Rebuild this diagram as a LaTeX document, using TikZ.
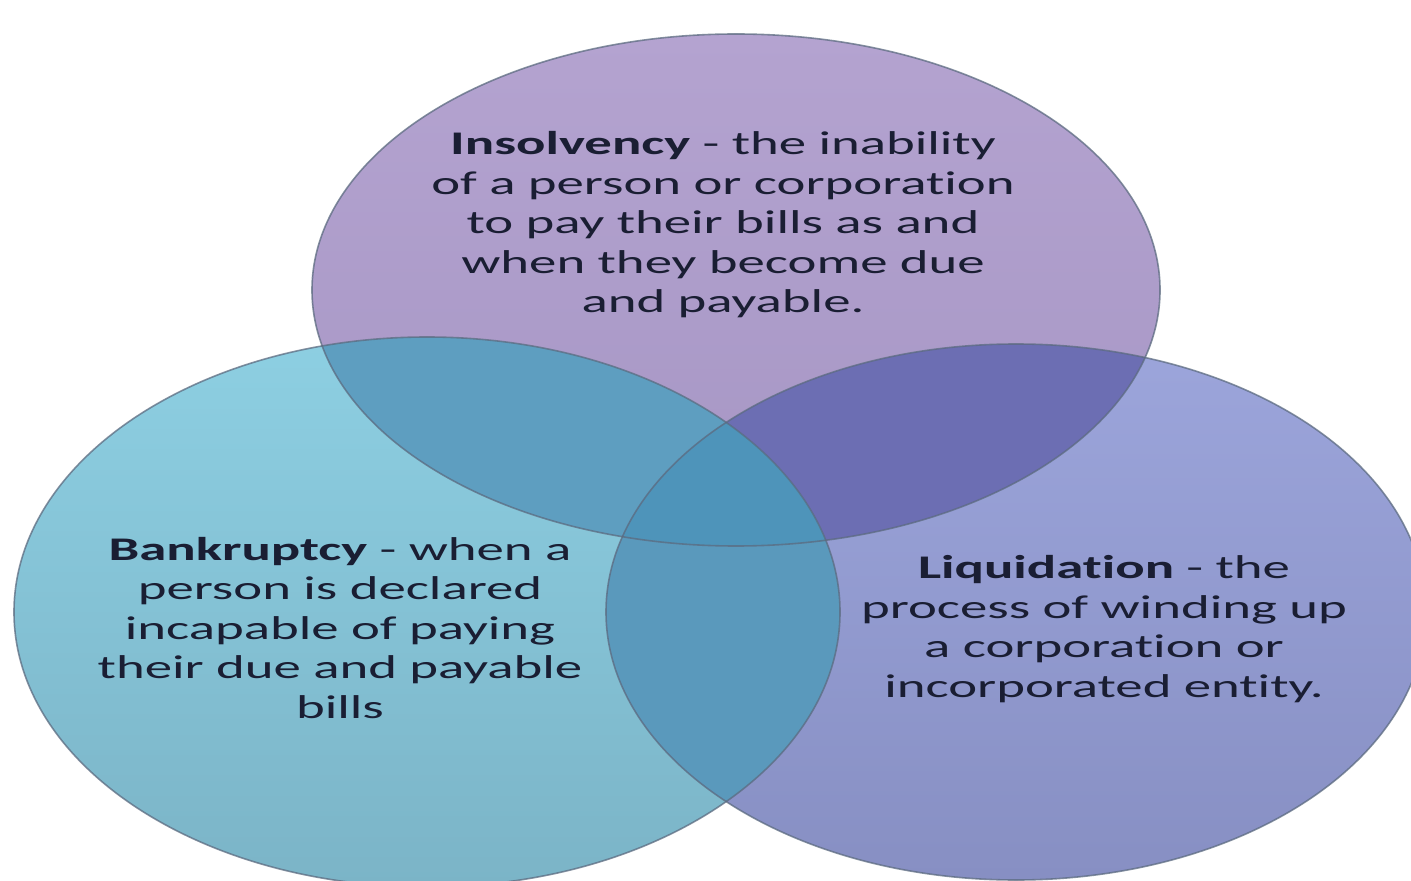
\documentclass[tikz,border=0pt]{standalone}
\usepackage{fontspec}
\newfontfamily\vennfont[FakeStretch=1.66,Ligatures={NoCommon},Contextuals={NoAlternate}]{Carlito}
\begin{document}
\begin{tikzpicture}[x=0.5pt,y=-0.5pt]
  % palette
  \definecolor{topA}{HTML}{B4A3D0}
  \definecolor{topB}{HTML}{A696C4}
  \definecolor{leftA}{HTML}{8DCFE2}
  \definecolor{leftB}{HTML}{7BB4C7}
  \definecolor{rightA}{HTML}{9CA5DB}
  \definecolor{rightB}{HTML}{878FC3}
  \definecolor{tlcol}{HTML}{5E9EC0}
  \definecolor{trcol}{HTML}{6C6EB3}
  \definecolor{lrcol}{HTML}{5A99BC}
  \definecolor{allcol}{HTML}{4E94BA}
  \definecolor{rim}{HTML}{5C6B80}
  \definecolor{ink}{HTML}{1A1E33}
  \tikzset{
    rimline/.style={draw=rim, draw opacity=0.75, line width=0.8pt},
    lbl/.style={font=\vennfont\fontsize{16.5pt}{19.75pt}\selectfont,
                align=center, text=ink, inner sep=0pt}
  }
  % the three sets
  \def\ellT{(736,290) ellipse [x radius=212pt, y radius=128pt]}
  \def\ellL{(427,612) ellipse [x radius=206.5pt, y radius=137.5pt]}
  \def\ellR{(1016,612) ellipse [x radius=205pt, y radius=134pt]}

  \useasboundingbox (0,0) rectangle (1411,881);
  \fill[white] (0,0) rectangle (1411,881);

  % base fills
  \shade[top color=topA, bottom color=topB] \ellT;
  \shade[top color=leftA, bottom color=leftB] \ellL;
  \shade[top color=rightA, bottom color=rightB] \ellR;

  % pairwise overlaps
  \begin{scope}
    \clip \ellT;
    \fill[tlcol] \ellL;
  \end{scope}
  \begin{scope}
    \clip \ellT;
    \fill[trcol] \ellR;
  \end{scope}
  \begin{scope}
    \clip \ellL;
    \fill[lrcol] \ellR;
  \end{scope}
  % centre where all three meet
  \begin{scope}
    \clip \ellT;
    \clip \ellL;
    \fill[allcol] \ellR;
  \end{scope}

  % outlines
  \path[rimline] \ellT;
  \path[rimline] \ellL;
  \path[rimline] \ellR;

  % labels (base anchor sits on the last line)
  \node[lbl, anchor=base] (insolvency) at (723,313)
    {\textbf{Insolvency} - the inability\\
     of a person or corporation\\
     to pay their bills as and\\
     when they become due\\
     and payable.};
  \node[lbl, anchor=base] (bankruptcy) at (340,718)
    {\textbf{Bankruptcy} - when a\\
     person is declared\\
     incapable of paying\\
     their due and payable\\
     bills};
  \node[lbl, anchor=base] (liquidation) at (1104,697)
    {\textbf{Liquidation} - the\\
     process of winding up\\
     a corporation or\\
     incorporated entity.};
\end{tikzpicture}
\end{document}
